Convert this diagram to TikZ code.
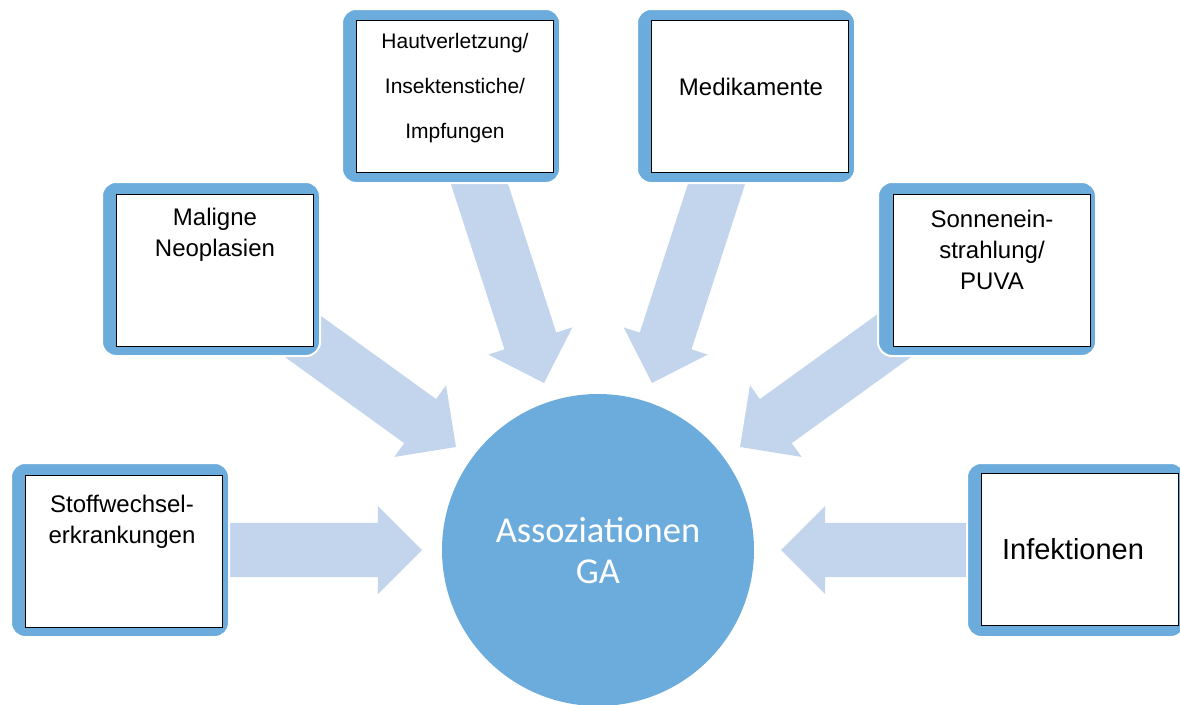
\documentclass[tikz,border=0pt]{standalone}
\usepackage{fontspec}
\setmainfont{Liberation Sans}
\newfontfamily\calibri{Carlito}
\usetikzlibrary{shapes.arrows, calc}
\definecolor{frameblue}{RGB}{108,172,220}
\definecolor{arrowblue}{RGB}{194,213,236}

% block arrow from #1 to #2
\newcommand{\bigarrow}[2]{%
  \path let \p1=(#1), \p2=(#2), \n1={atan2(\y2-\y1,\x2-\x1)}, \n2={veclen(\x2-\x1,\y2-\y1)} in
    node[big_arrow, minimum height=\n2, rotate=\n1, anchor=tip] at (#2) {};}

\begin{document}
\begin{tikzpicture}[
    x=1pt, y=-1pt,
    frame_box/.style={rectangle, rounded corners=14pt, fill=frameblue, draw=white, line width=2pt, minimum width=218pt, minimum height=174pt},
    text_box/.style={rectangle, draw=black, fill=white, line width=0.8pt, minimum width=197pt, minimum height=152pt},
    box_text/.style={anchor=base, inner sep=0pt, text width=200pt, align=center, font=\fontsize{24}{31}\selectfont},
    big_arrow/.style={single arrow, fill=arrowblue, inner xsep=0pt, inner ysep=27pt, outer sep=0pt, single arrow head extend=17pt}
]
    \useasboundingbox (0,0) rectangle (1180,704);
    % arrow ends
    \coordinate (SWa) at (215,550);
    \coordinate (SWt) at (422,550);
    \coordinate (MNa) at (294,330);
    \coordinate (MNt) at (456,447);
    \coordinate (HVa) at (473,164);
    \coordinate (HVt) at (544,383);
    \coordinate (MKa) at (723,164);
    \coordinate (MKt) at (652,383);
    \coordinate (SPa) at (902,330);
    \coordinate (SPt) at (740,447);
    \coordinate (IFa) at (985,550);
    \coordinate (IFt) at (781,550);
    \bigarrow{SWa}{SWt}
    \bigarrow{MNa}{MNt}
    \bigarrow{HVa}{HVt}
    \bigarrow{MKa}{MKt}
    \bigarrow{SPa}{SPt}
    \bigarrow{IFa}{IFt}

    \node[circle, fill=frameblue, minimum size=312pt, inner sep=0pt, align=center, text=white,
        font=\calibri\fontsize{36.5}{41}\selectfont] (GA) at (598,550) {Assoziationen\\GA};

    \node[frame_box] (SWf) at (120,550) {};
    \node[text_box] (SW) at (124,551) {};
    \node[box_text] (SWl) at (122,512) {Stoffwechsel-\\erkrankungen};

    \node[frame_box] (MNf) at (211,269) {};
    \node[text_box] (MN) at (215,270) {};
    \node[box_text] (MNl) at (215,225) {Maligne\\Neoplasien};

    \node[frame_box] (HVf) at (451,96) {};
    \node[text_box] (HV) at (455,96) {};
    \node[box_text, font=\fontsize{21}{45}\selectfont] (HVl) at (455,48) {Hautverletzung/\\Insektenstiche/\\Impfungen};

    \node[frame_box] (MKf) at (746,96) {};
    \node[text_box] (MK) at (750,96) {};
    \node[box_text] (MKl) at (751,95) {Medikamente};

    \node[frame_box] (SPf) at (987,269) {};
    \node[text_box] (SP) at (992,270) {};
    \node[box_text] (SPl) at (992,227) {Sonnenein-\\strahlung/\\PUVA};

    \node[frame_box] (IFf) at (1076,550) {};
    \node[text_box] (IF) at (1080,549) {};
    \node[box_text, font=\fontsize{29}{35}\selectfont] (IFl) at (1073,559) {Infektionen};
\end{tikzpicture}
\end{document}
